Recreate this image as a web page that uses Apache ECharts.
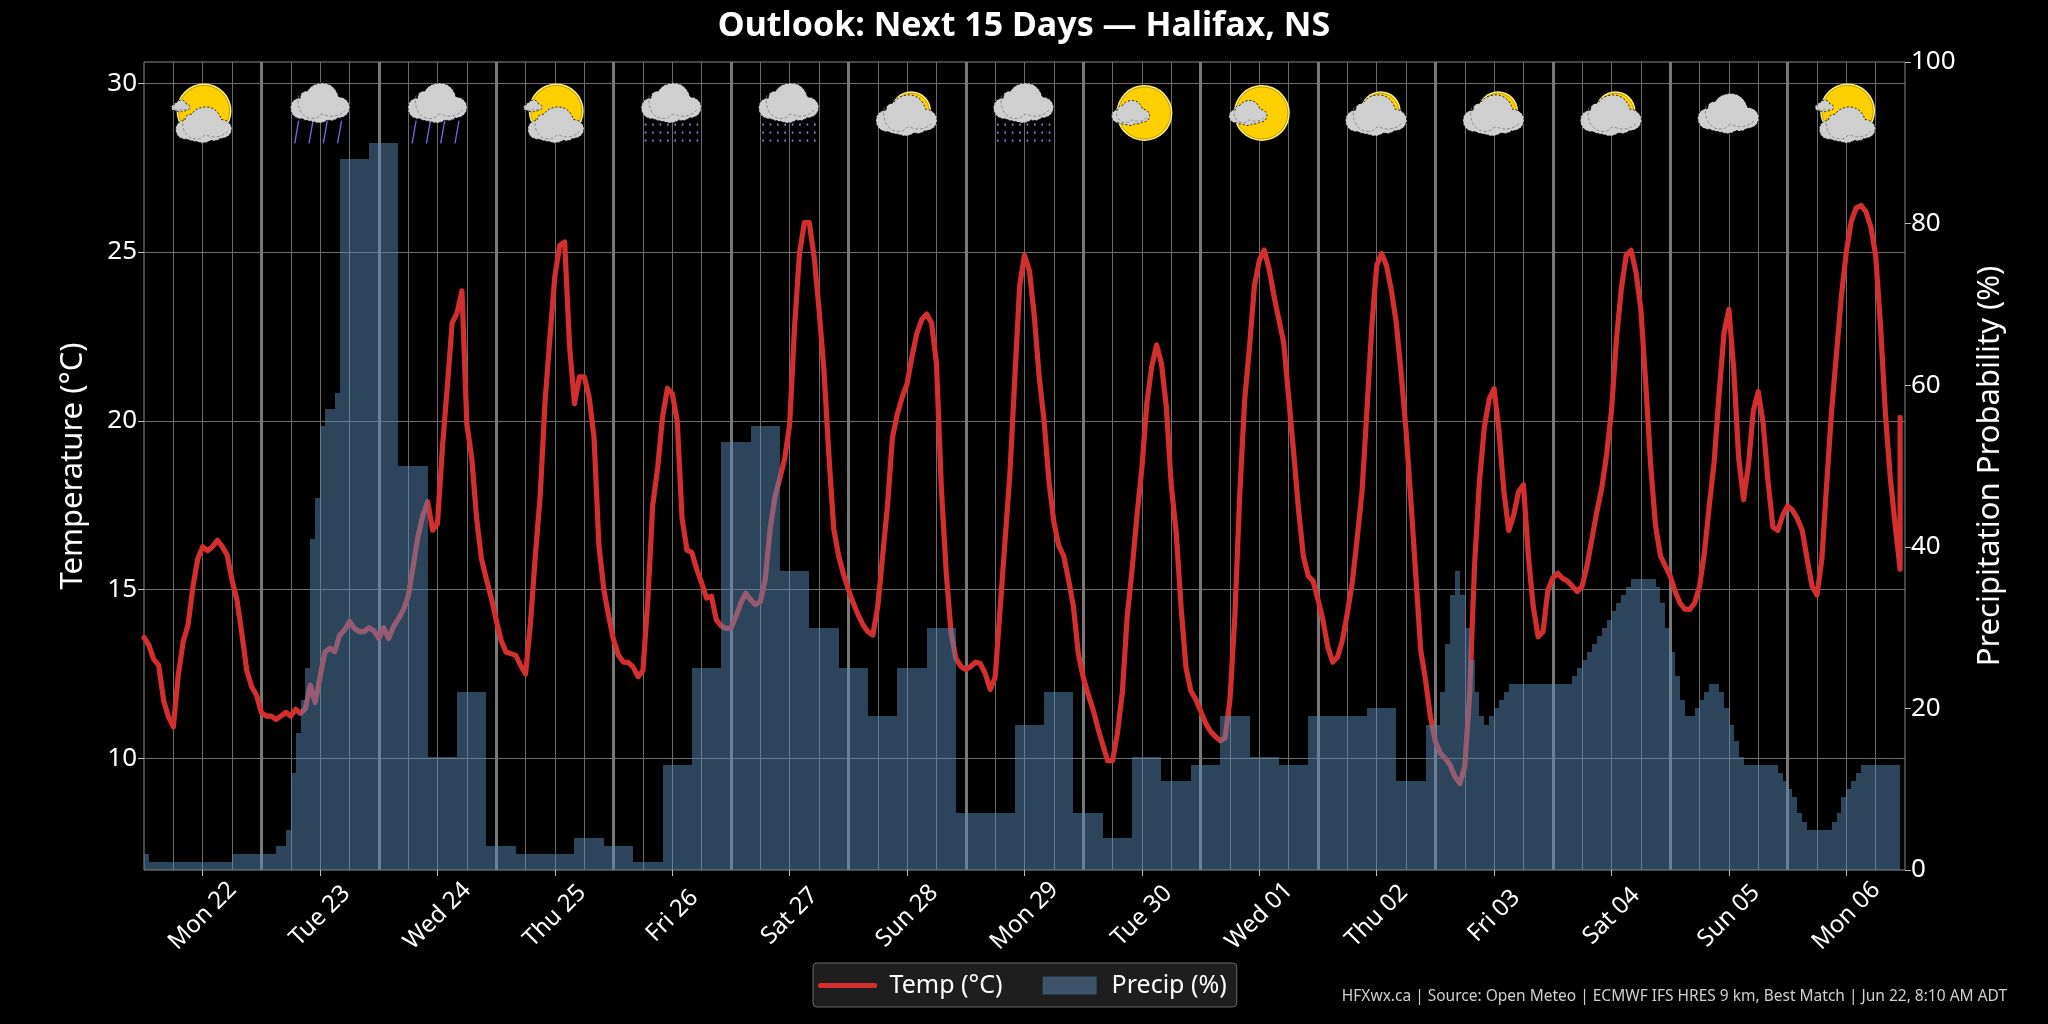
<!DOCTYPE html>
<html>
<head>
<meta charset="utf-8">
<title>Outlook: Next 15 Days — Halifax, NS</title>
<script src="https://cdn.jsdelivr.net/npm/echarts@6/dist/echarts.min.js"></script>
<style>
  html, body { margin: 0; padding: 0; background: #000; }
  #chart { width: 2048px; height: 1024px; }
</style>
</head>
<body>
<div id="chart"></div>
<script>
// Day labels, placed at local noon of each forecast day.
const dayLabels = ['Mon 22','Tue 23','Wed 24','Thu 25','Fri 26','Sat 27','Sun 28','Mon 29',
                   'Tue 30','Wed 01','Thu 02','Fri 03','Sat 04','Sun 05','Mon 06'];

// Hours since the start of the forecast at which each day label sits.
const noonHours = [12,36,60,84,108,132,156,180,204,228,252,276,300,324,348];

// Condition icon for each day.
const dayIcons = ['partly','rain','rain','partly','drizzle','drizzle','mostly','drizzle',
                  'sunny','sunny','mostly','mostly','mostly','cloud','partly'];

// Hourly temperature in °C, one row per day. The final sample repeats the last hour.
const tempValues = [
  13.58,13.35,12.93,12.76,11.72,11.23,10.93,12.46,13.45,13.95,15.08,15.92,16.27,16.15,16.27,16.46,16.27,16.02,15.28,14.69,13.7,12.61,12.12,11.87,
  11.35,11.25,11.25,11.15,11.25,11.36,11.25,11.45,11.33,11.48,12.17,11.65,12.42,13.15,13.26,13.16,13.65,13.8,14.05,13.85,13.75,13.75,13.87,13.78,
  13.55,13.87,13.55,13.9,14.14,14.39,14.79,15.67,16.56,17.2,17.6,16.76,16.96,19.2,21.0,22.9,23.2,23.85,19.9,18.9,17.1,15.9,15.3,14.75,
  14.1,13.5,13.15,13.1,13.05,12.75,12.5,14.0,16.0,17.8,20.6,22.5,24.3,25.2,25.3,22.2,20.5,21.3,21.3,20.7,19.5,16.3,15.0,14.2,
  13.5,13.05,12.85,12.84,12.7,12.42,12.6,14.7,17.5,18.6,20.1,20.96,20.8,20.0,17.1,16.17,16.1,15.6,15.2,14.75,14.8,14.1,13.92,13.85,
  13.85,14.2,14.6,14.89,14.7,14.55,14.65,15.3,16.8,17.75,18.3,18.9,19.9,22.8,24.96,25.87,25.87,24.85,23.3,21.5,19.0,16.8,16.0,15.45,
  15.0,14.6,14.25,13.95,13.75,13.65,14.5,16.0,17.5,19.5,20.2,20.7,21.1,21.9,22.6,23.0,23.16,22.9,21.7,18.0,15.5,13.7,12.95,12.72,
  12.63,12.72,12.85,12.8,12.5,12.04,12.4,14.4,16.4,18.4,21.2,24.0,24.9,24.45,23.1,21.3,20.0,18.2,17.0,16.3,16.0,15.3,14.5,13.1,
  12.4,11.9,11.45,10.9,10.4,9.93,9.93,10.75,11.95,14.2,15.6,17.2,18.6,20.5,21.6,22.25,21.7,20.4,18.1,16.7,14.5,12.7,12.0,11.75,
  11.4,11.05,10.8,10.65,10.52,10.6,11.73,14.2,17.8,20.6,22.2,24.0,24.75,25.06,24.5,23.7,23.0,22.3,20.7,19.1,17.4,16.0,15.4,15.25,
  14.7,14.1,13.3,12.85,13.0,13.5,14.3,15.2,16.5,17.9,20.3,22.8,24.6,24.96,24.6,23.87,22.9,21.4,19.7,17.6,15.4,13.2,12.3,11.2,
  10.5,10.15,10.0,9.8,9.45,9.25,9.75,11.9,15.7,18.2,19.8,20.65,20.95,19.7,17.9,16.75,17.2,17.9,18.1,16.0,14.5,13.6,13.75,14.98,
  15.35,15.48,15.33,15.25,15.1,14.94,15.1,15.7,16.5,17.3,18.0,19.0,20.3,22.4,23.9,24.9,25.05,24.4,23.3,21.1,18.7,16.9,16.0,15.7,
  15.4,14.95,14.6,14.42,14.41,14.6,15.1,16.1,17.5,18.8,20.8,22.6,23.3,21.5,18.9,17.66,18.7,20.3,20.86,19.93,18.2,16.85,16.75,17.2,
  17.48,17.35,17.1,16.75,15.9,15.1,14.84,15.9,18.15,20.3,22.0,23.7,25.0,25.9,26.3,26.38,26.2,25.75,24.9,22.8,20.2,18.3,16.9,15.6,
  20.1
];

// Hourly precipitation probability in %, one row per day.
const precipValues = [
  2,1,1,1,1,1,1,1,1,1,1,1,1,1,1,1,1,1,2,2,2,2,2,2,
  2,2,2,3,3,5,12,17,21,25,41,46,55,57,57,59,88,88,88,88,88,88,90,90,
  90,90,90,90,50,50,50,50,50,50,14,14,14,14,14,14,22,22,22,22,22,22,3,3,
  3,3,3,3,2,2,2,2,2,2,2,2,2,2,2,2,4,4,4,4,4,4,3,3,
  3,3,3,3,1,1,1,1,1,1,13,13,13,13,13,13,25,25,25,25,25,25,53,53,
  53,53,53,53,55,55,55,55,55,55,37,37,37,37,37,37,30,30,30,30,30,30,25,25,
  25,25,25,25,19,19,19,19,19,19,25,25,25,25,25,25,30,30,30,30,30,30,7,7,
  7,7,7,7,7,7,7,7,7,7,18,18,18,18,18,18,22,22,22,22,22,22,7,7,
  7,7,7,7,4,4,4,4,4,4,14,14,14,14,14,14,11,11,11,11,11,11,13,13,
  13,13,13,13,19,19,19,19,19,19,14,14,14,14,14,14,13,13,13,13,13,13,19,19,
  19,19,19,19,19,19,19,19,19,19,20,20,20,20,20,20,11,11,11,11,11,11,18,18,
  18,22,28,34,37,34,30,26,22,19,18,19,20,21,22,23,23,23,23,23,23,23,23,23,
  23,23,23,23,24,25,26,27,28,29,30,31,32,33,34,35,36,36,36,36,36,35,33,30,
  27,24,21,19,19,20,21,22,23,23,22,20,18,16,14,13,13,13,13,13,13,13,12,11,
  10,9,7,6,5,5,5,5,5,6,7,9,10,11,12,13,13,13,13,13,13,13,13
];

const tempTicks = [10, 15, 20, 25, 30];
const iconTemp = 29.12;   // icon row, expressed on the temperature scale

// One-unit cloud outlines, stretched to each icon's size.
const CLOUD_PATH = 'M12 36 C3 36 0 30 0 25 C0 19 4 15 10 15 C9 10 13 8 17 8 C20 2 27 0 32 0 ' +
  'C40 0 46 6 48 14 C54 14 59 19 59 24 C59 30 55 35 47 35 C44 38 40 38 37 37 C33 40 28 41 24 39 C20 38 16 38 12 36 Z';
const CLOUD_FOLD = 'M9 13 C7 20 9 28 14 32 C18 36 26 36 29 33 C31 30 34 31 36 32 C41 34 50 33 55 27';

function cloud(cx, cy, w, h) {
  const left = cx - w / 2, top = cy - h / 2;
  return [
    { type: 'path',
      shape: { pathData: CLOUD_PATH, x: left, y: top, width: w, height: h, layout: 'cover' },
      style: { fill: '#cfcfcf', stroke: '#111', lineWidth: 0.9, lineDash: [2, 2] } },
    { type: 'path',
      shape: { pathData: CLOUD_FOLD, x: left + w * 0.125, y: top + h * 0.31, width: w * 0.8, height: h * 0.58, layout: 'cover' },
      style: { fill: 'none', stroke: '#7a7a7a', lineWidth: 0.8, lineDash: [3, 2] } }
  ];
}

function sun(cx, cy, r) {
  return [
    { type: 'circle', shape: { cx, cy, r }, style: { fill: '#ffee78' } },
    { type: 'circle', shape: { cx, cy, r: r - 1.9 }, style: { fill: '#ffcf00', stroke: '#a8900f', lineWidth: 0.8 } }
  ];
}

function rainStreaks(cx, cy) {
  const els = [];
  for (let k = 0; k < 4; k++) {
    const x = cx - 21.4 + k * 14.3;
    els.push({ type: 'line', shape: { x1: x, y1: cy + 7.7, x2: x - 4, y2: cy + 30.3 },
               style: { stroke: '#6d6de2', lineWidth: 1.3 } });
  }
  return els;
}

function drizzleDots(cx, cy) {
  const els = [];
  for (let row = 0; row < 3; row++) {
    for (let col = 0; col < 8; col++) {
      els.push({ type: 'rect',
                 shape: { x: cx - 27.5 + col * 7.4, y: cy + 10.5 + row * 8, width: 1.6, height: 2.2 },
                 style: { fill: '#7f7fdc' } });
    }
  }
  return els;
}

function iconElements(kind, x, y) {
  switch (kind) {
    case 'partly':
      return [...sun(x + 1.3, y - 2, 27.5), ...cloud(x + 1, y + 12, 56, 36), ...cloud(x - 22, y - 7, 18.5, 11.7)];
    case 'rain':
      return [...rainStreaks(x, y), ...cloud(x, y - 10, 59, 40)];
    case 'drizzle':
      return [...drizzleDots(x, y), ...cloud(x - 1, y - 10, 60, 40)];
    case 'mostly':
      return [...sun(x + 4, y - 1.7, 20), ...cloud(x - 0.6, y + 2.5, 61, 41)];
    case 'cloud':
      return cloud(x - 0.6, y + 0.5, 61, 40);
    case 'sunny':
      return [...sun(x + 2.5, y, 28), ...cloud(x - 11.3, y, 38, 25)];
  }
  return [];
}

const FONT = '"Noto Sans", sans-serif';
const tempData = tempValues.map((t, i) => [Math.min(i, 359), t]);
const precipData = precipValues.map((p, i) => [i, p]);
const iconData = noonHours.map((h, i) => [h, iconTemp, i]);

const sharedX = { type: 'value', min: 0, max: 360, axisLine: { show: false, onZero: false }, axisTick: { show: false }, axisLabel: { show: false } };

const chart = echarts.init(document.getElementById('chart'), null, { renderer: 'canvas' });
chart.setOption({
  animation: false,
  backgroundColor: '#000',
  title: [
    { text: 'Outlook: Next 15 Days — Halifax, NS', left: 'center', top: 4,
      textStyle: { color: '#fff', fontSize: 34, fontWeight: 'bold', fontFamily: FONT } },
    { text: 'HFXwx.ca | Source: Open Meteo | ECMWF IFS HRES 9 km, Best Match | Jun 22, 8:10 AM ADT',
      right: 36, top: 984,
      textStyle: { color: '#cfcfcf', fontSize: 15.5, fontWeight: 'normal', fontFamily: FONT } }
  ],
  legend: {
    left: 813, top: 963,
    padding: [10, 10, 9, 5],
    itemWidth: 54, itemHeight: 18, itemGap: 40,
    backgroundColor: '#1e1e1e', borderColor: '#6a6a6a', borderWidth: 1, borderRadius: 4,
    textStyle: { color: '#fff', fontSize: 25, fontFamily: FONT, padding: [0, 0, 0, 10] },
    data: [
      { name: 'Temp (°C)', itemStyle: { opacity: 0 }, lineStyle: { color: '#d32f2f', width: 5.2 } },
      { name: 'Precip (%)', icon: 'rect' }
    ]
  },
  grid: { left: 144, right: 143, top: 62, bottom: 154, show: true, borderColor: '#8a8a8a', borderWidth: 1, backgroundColor: '#000' },
  xAxis: [
    { type: 'value', min: 0, max: 360,
      axisLine: { show: false, onZero: false },
      axisTick: { show: true, length: 6, lineStyle: { color: '#bbb', width: 1 }, customValues: noonHours },
      axisLabel: { show: true, color: '#fff', fontSize: 24, fontFamily: FONT, rotate: 45, align: 'center', verticalAlign: 'middle', margin: 46,
                   customValues: noonHours, hideOverlap: false,
                   formatter: v => dayLabels[noonHours.indexOf(v)] },
      splitLine: { show: false } },
    { ...sharedX, interval: 6, splitLine: { show: true, showMinLine: false, showMaxLine: false, lineStyle: { color: '#6c6c6c', width: 1 } } },
    { ...sharedX, interval: 24, splitLine: { show: true, showMinLine: false, showMaxLine: false, lineStyle: { color: '#787878', width: 3 } } }
  ],
  yAxis: [
    { type: 'value', min: 6.69, max: 30.63, position: 'left',
      name: 'Temperature (°C)', nameLocation: 'middle', nameGap: 55,
      nameTextStyle: { color: '#fff', fontSize: 31, fontFamily: FONT },
      axisLine: { show: false, onZero: false },
      axisTick: { show: true, length: 6, lineStyle: { color: '#bbb', width: 1 }, customValues: tempTicks },
      axisLabel: { color: '#fff', fontSize: 26, fontFamily: FONT, margin: 7, padding: [3, 0, 0, 0], customValues: tempTicks },
      splitLine: { show: true, lineStyle: { color: '#6c6c6c', width: 1 } } },
    { type: 'value', min: 0, max: 100, interval: 20, position: 'right',
      name: 'Precipitation Probability (%)', nameLocation: 'middle', nameGap: 70,
      nameTextStyle: { color: '#fff', fontSize: 31, fontFamily: FONT },
      axisLine: { show: false, onZero: false },
      axisTick: { show: true, length: 6, lineStyle: { color: '#bbb', width: 1 } },
      axisLabel: { color: '#fff', fontSize: 26, fontFamily: FONT, margin: 6, padding: [5, 0, 0, 0] },
      splitLine: { show: false } }
  ],
  series: [
    { name: 'Temp (°C)', type: 'line', xAxisIndex: 0, yAxisIndex: 0, z: 3,
      data: tempData, showSymbol: false, symbol: 'none', smooth: false,
      lineStyle: { color: '#d32f2f', width: 5.2, join: 'round', cap: 'round' },
      itemStyle: { color: '#d32f2f' } },
    // Hourly probability blocks, snapped to whole pixels so neighbours join without seams.
    { name: 'Precip (%)', type: 'custom', xAxisIndex: 0, yAxisIndex: 1, z: 4, clip: true,
      encode: { x: 0, y: 1 },
      data: precipData,
      itemStyle: { color: 'rgba(88,138,180,0.5)' },
      renderItem: (params, api) => {
        const h = api.value(0), p = api.value(1);
        const x0 = Math.round(api.coord([h, 0])[0]);
        const x1 = Math.round(api.coord([h + 1, 0])[0]);
        const y0 = api.coord([h, 0])[1];
        const y1 = Math.round(api.coord([h, p])[1]);
        return { type: 'rect', shape: { x: x0, y: y1, width: x1 - x0, height: y0 - y1 },
                 style: { fill: 'rgba(88,138,180,0.5)' } };
      } },
    // Daily condition icons along the top of the plot.
    { name: 'Conditions', type: 'custom', xAxisIndex: 0, yAxisIndex: 0, z: 5,
      encode: { x: 0, y: 1 },
      data: iconData,
      renderItem: (params, api) => {
        const [x, y] = api.coord([api.value(0), api.value(1)]);
        return { type: 'group', children: iconElements(dayIcons[api.value(2)], x, y) };
      } }
  ]
});
</script>
</body>
</html>
